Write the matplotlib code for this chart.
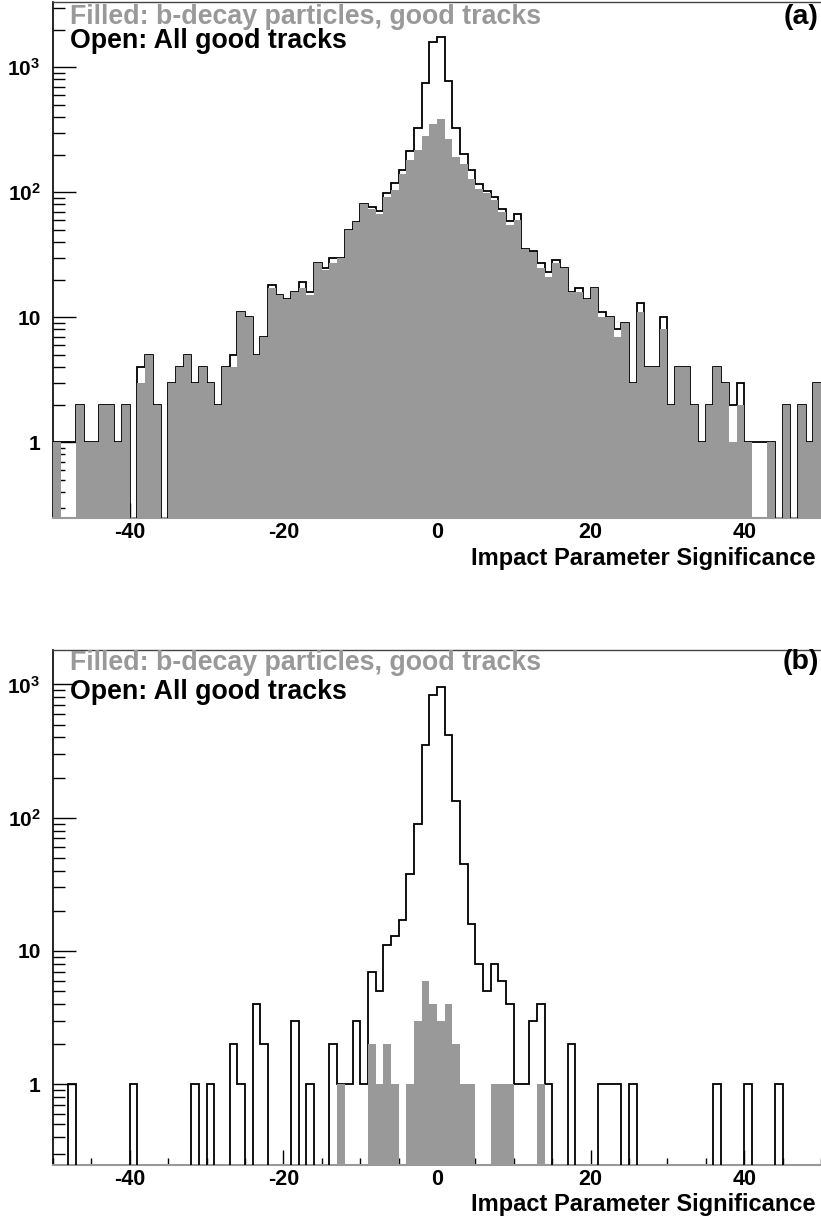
import numpy as np
import matplotlib.pyplot as plt
from matplotlib.ticker import MultipleLocator, LogLocator, FixedLocator, NullFormatter

# bin edges: 100 bins of width 1 from -50 to 50
edges = np.arange(-50, 51, 1)

# (a) all good tracks (open) and b-decay particles (filled)
open_a = [1, 1, 1, 2, 1, 1, 2, 2, 1, 2,
          0, 4, 5, 2, 0, 3, 4, 5, 3, 4,
          3, 2, 4, 5, 11, 10, 5, 7, 18, 15,
          14, 16, 19, 16, 27, 25, 30, 30, 50, 58,
          81, 76, 71, 99, 118, 152, 215, 328, 750, 1580,
          1760, 775, 328, 203, 150, 116, 102, 91, 73, 59,
          67, 35, 34, 27, 23, 29, 25, 16, 17, 14,
          17, 11, 10, 8, 9, 3, 13, 4, 4, 10,
          2, 4, 4, 2, 1, 2, 4, 3, 2, 3,
          1, 1, 1, 1, 0, 2, 0, 2, 1, 3]
filled_a = [1, 0, 0, 2, 1, 1, 2, 2, 1, 2,
            0, 3, 5, 2, 0, 3, 4, 5, 3, 4,
            3, 2, 4, 4, 11, 10, 5, 7, 17, 15,
            14, 16, 17, 15, 27, 24, 27, 30, 50, 58,
            81, 73, 67, 91, 105, 139, 180, 216, 280, 350,
            384, 266, 192, 169, 128, 107, 98, 86, 70, 55,
            60, 35, 33, 25, 21, 27, 25, 16, 16, 14,
            17, 10, 10, 7, 9, 3, 11, 4, 4, 8,
            2, 4, 4, 2, 1, 2, 4, 3, 1, 2,
            1, 0, 0, 1, 0, 2, 0, 2, 1, 3]

# (b)
open_b = [0, 0, 1, 0, 0, 0, 0, 0, 0, 0,
          1, 0, 0, 0, 0, 0, 0, 0, 1, 0,
          1, 0, 0, 2, 1, 0, 4, 2, 0, 0,
          0, 3, 0, 1, 0, 0, 2, 1, 1, 3,
          1, 7, 5, 11, 13, 17, 38, 89, 350, 830,
          950, 415, 134, 45, 16, 8, 5, 8, 6, 4,
          1, 1, 3, 4, 1, 0, 0, 2, 0, 0,
          0, 1, 1, 1, 0, 1, 0, 0, 0, 0,
          0, 0, 0, 0, 0, 0, 1, 0, 0, 0,
          1, 0, 0, 0, 1, 0, 0, 0, 0, 0]
filled_b = [0, 0, 0, 0, 0, 0, 0, 0, 0, 0,
            0, 0, 0, 0, 0, 0, 0, 0, 0, 0,
            0, 0, 0, 0, 0, 0, 0, 0, 0, 0,
            0, 0, 0, 0, 0, 0, 0, 1, 0, 0,
            0, 2, 1, 2, 1, 0, 1, 3, 6, 4,
            3, 4, 2, 1, 1, 0, 0, 1, 1, 1,
            0, 0, 0, 1, 0, 0, 0, 0, 0, 0,
            0, 0, 0, 0, 0, 0, 0, 0, 0, 0,
            0, 0, 0, 0, 0, 0, 0, 0, 0, 0,
            0, 0, 0, 0, 0, 0, 0, 0, 0, 0]

GRAY = "#999999"

plt.rcParams["font.family"] = ["Liberation Sans", "DejaVu Sans"]
plt.rcParams["font.weight"] = "bold"
plt.rcParams["axes.unicode_minus"] = False
plt.rcParams["mathtext.fontset"] = "custom"
plt.rcParams["mathtext.rm"] = "Liberation Sans:bold"
plt.rcParams["mathtext.it"] = "Liberation Sans:bold"
plt.rcParams["mathtext.bf"] = "Liberation Sans:bold"

W, H = 821, 1219
fig = plt.figure(figsize=(W / 100, H / 100), dpi=100)
ax_a = fig.add_axes([53 / W, 1 - 518 / H, 1 - 53 / W, 516 / H])
ax_b = fig.add_axes([53 / W, 1 - 1165 / H, 1 - 53 / W, 515 / H])


def draw(ax, opn, fld, ymax, tag, ytxt):
    lo = 1e-3  # empty bins drop below the frame, like ROOT
    opn = np.asarray(opn, float)
    fld = np.asarray(fld, float)
    ax.stairs(np.where(opn > 0, opn, lo), edges, baseline=lo,
              color="black", lw=1.3, zorder=3)
    ax.stairs(np.where(fld > 0, fld, lo), edges, baseline=lo, fill=True,
              color=GRAY, lw=0, zorder=4)

    ax.set_yscale("log")
    ax.set_xlim(-50, 50)
    ax.set_ylim(0.248, ymax)
    ax.set_axisbelow(True)

    ax.yaxis.set_major_locator(FixedLocator([1, 10, 100, 1000]))
    ax.set_yticklabels(["1", "10", r"$10^{2}$", r"$10^{3}$"])
    ax.yaxis.set_minor_locator(LogLocator(base=10, subs=np.arange(2, 10)))
    ax.yaxis.set_minor_formatter(NullFormatter())
    ax.xaxis.set_major_locator(MultipleLocator(20))
    ax.xaxis.set_minor_locator(MultipleLocator(5))

    ax.tick_params(axis="y", which="major", direction="in", length=16.5, width=1,
                   labelsize=15, pad=9)
    ax.tick_params(axis="y", which="minor", direction="in", length=8.5, width=1)
    ax.tick_params(axis="x", which="major", direction="in", length=10.5, width=1,
                   labelsize=15.5, pad=3)
    ax.tick_params(axis="x", which="minor", direction="in", length=5, width=1)
    for lab in ax.get_xticklabels() + ax.get_yticklabels():
        lab.set_fontweight("bold")

    ax.spines["right"].set_visible(False)
    ax.spines["left"].set_linewidth(1.2)
    ax.spines["top"].set_color("#444444")
    ax.spines["top"].set_linewidth(1)
    ax.spines["bottom"].set_color(GRAY)
    ax.spines["bottom"].set_linewidth(1.5)

    ax.set_xlabel("Impact Parameter Significance", fontsize=17, fontweight="bold",
                  ha="right", va="center")
    ax.xaxis.set_label_coords(0.993, -40 / 516)

    ax.text(0.022, ytxt[0], "Filled: b-decay particles, good tracks", color=GRAY,
            fontsize=19.3, fontweight="bold", va="center", ha="left",
            transform=ax.transAxes, zorder=6)
    ax.text(0.022, ytxt[1], "Open: All good tracks", color="black",
            fontsize=19.3, fontweight="bold", va="center", ha="left",
            transform=ax.transAxes, zorder=6)
    ax.text(0.997, ytxt[2], tag, color="black", fontsize=20.5, fontweight="bold",
            va="center", ha="right", transform=ax.transAxes, zorder=6)


draw(ax_a, open_a, filled_a, 3330, "(a)", (0.971, 0.924, 0.971))
draw(ax_b, open_b, filled_b, 1811, "(b)", (0.975, 0.919, 0.976))

fig.savefig("out.png", dpi=100)
